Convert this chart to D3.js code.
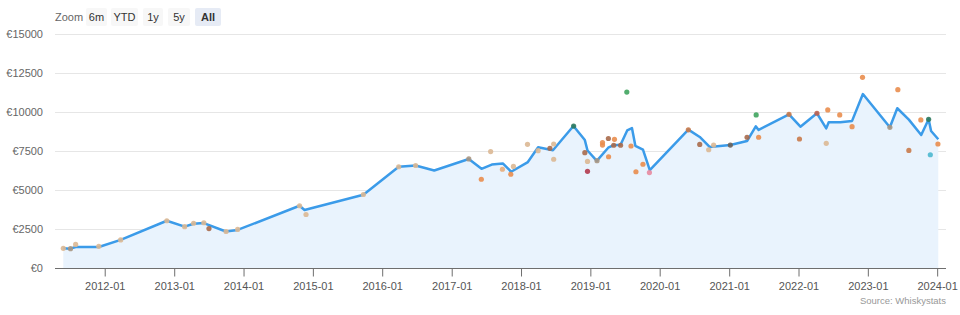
<!DOCTYPE html>
<html>
<head>
<meta charset="utf-8">
<script src="https://cdn.jsdelivr.net/npm/d3@7"></script>
<style>
  body { margin: 0; background: #fff; font-family: "Liberation Sans", Arial, sans-serif; }
  svg { display: block; }
</style>
</head>
<body>
<svg id="chart"></svg>
<script>
// line: average price over time
const lineDates = ["2011-05-28","2011-07-05","2011-08-01","2011-12-01","2012-03-25","2012-11-23","2013-02-25","2013-04-13","2013-06-06","2013-09-30","2013-12-01","2014-10-23","2014-11-18","2015-09-24","2016-03-28","2016-06-25","2016-10-01","2017-04-01","2017-06-07","2017-07-31","2017-09-27","2017-11-10","2018-02-06","2018-04-01","2018-06-18","2018-10-04","2018-12-03","2018-12-17","2019-02-04","2019-04-05","2019-05-04","2019-06-09","2019-07-14","2019-08-08","2019-08-26","2019-10-05","2019-11-10","2020-05-31","2020-07-30","2020-09-20","2021-01-07","2021-04-05","2021-05-21","2021-06-05","2021-11-12","2022-01-11","2022-04-08","2022-05-27","2022-06-09","2022-08-09","2022-10-10","2022-12-06","2023-04-27","2023-06-05","2023-08-05","2023-10-09","2023-11-17","2023-11-30","2024-01-07"]
const lineValues = [1260,1240,1350,1350,1800,3030,2650,2840,2880,2340,2440,3990,3720,4700,6490,6570,6250,6990,6360,6630,6700,6170,6790,7740,7550,9100,8200,7530,6870,7710,7870,7900,8820,8970,7830,7590,6280,8870,8400,7760,7880,8140,9080,8850,9850,9060,9920,8950,9340,9340,9430,11150,9020,10240,9510,8530,9530,8780,8250]

// scatter: individual auction results
const dotDates = ["2011-05-28","2011-07-05","2011-08-01","2011-12-01","2012-03-25","2012-11-23","2013-02-25","2013-04-13","2013-06-06","2013-07-03","2013-10-01","2013-12-01","2014-10-23","2014-11-26","2015-09-24","2016-03-28","2016-06-25","2017-04-01","2017-06-06","2017-07-25","2017-09-25","2017-11-08","2017-11-22","2018-02-04","2018-04-01","2018-06-02","2018-06-22","2018-06-22","2018-10-05","2018-12-03","2018-12-17","2018-12-17","2019-02-05","2019-03-06","2019-03-06","2019-04-06","2019-04-07","2019-05-04","2019-05-08","2019-06-09","2019-07-12","2019-08-03","2019-08-29","2019-10-05","2019-11-08","2020-05-31","2020-07-30","2020-09-15","2020-10-11","2021-01-07","2021-04-05","2021-05-23","2021-06-05","2021-11-12","2022-01-06","2022-04-08","2022-05-27","2022-06-04","2022-08-06","2022-10-10","2022-12-04","2023-04-27","2023-06-08","2023-08-05","2023-10-07","2023-11-17","2023-11-26","2024-01-05"]
const dotValues = [1260,1240,1510,1390,1800,3030,2650,2870,2900,2530,2340,2470,3990,3430,4710,6490,6570,6990,5690,7460,6330,6010,6510,7930,7520,7670,7950,6970,9100,7390,6830,6200,6880,8040,7880,8300,7130,7870,8250,7870,11280,7820,6170,6650,6120,8860,7920,7580,7880,7880,8380,9810,8380,9850,8270,9920,7990,10130,9810,9060,12220,9020,11430,7540,9490,9530,7260,7950]
const dotKinds = ["tan","grey","tan","tan","tan","tan","tan","tan","tan","brown","tan","tan","tan","tan","tan","tan","tan","grey","orange","tan","lorange","orange","tan","tan","tan","brown","tan","tan","dgreen","brown","tan","dred","grey","orange","orange","brown","orange","brown","orange","brown","green","orange","orange","orange","pink","borange","brown","tan","tan","dgrey","brown","green","orange","borange","borange","rbrown","tan","orange","orange","orange","orange","grey","orange","borange","orange","dgreen","teal","orange"]

const yTicks = [0, 2500, 5000, 7500, 10000, 12500, 15000]
const xTickYears = [2012,2013,2014,2015,2016,2017,2018,2019,2020,2021,2022,2023,2024]
const zoomButtons = ["6m", "YTD", "1y", "5y", "All"]

const kindColor = {
    tan: "#dcb894", grey: "#a89682", orange: "#e98d4e", lorange: "#e7ad7c",
    brown: "#a86a4b", borange: "#c97a4a", rbrown: "#c0604e", dred: "#b23a4e",
    green: "#3fa45e", dgreen: "#2e7a5e", teal: "#4cb8cf", pink: "#e88aa0", dgrey: "#6e6258"
}

const width = 960
const height = 315
const svg = d3.select('#chart')
    .attr("width", width)
    .attr("height", height)

const parse = d3.timeParse("%Y-%m-%d")
const line = lineDates.map((d, i) => ({ date: parse(d), value: lineValues[i] }))
const dots = dotDates.map((d, i) => ({ date: parse(d), value: dotValues[i], kind: dotKinds[i] }))

const x = d3.scaleTime()
    .domain(d3.extent(line, d => d.date))
    .range([63.3, 938.3])
const y = d3.scaleLinear()
    .domain([0, 15000])
    .range([268, 34])

// gridlines + y labels
svg.append('g')
    .selectAll('line')
    .data(yTicks.slice(1))
    .enter()
    .append('line')
    .attr('x1', 55).attr('x2', 946)
    .attr('y1', d => y(d) + 0.5).attr('y2', d => y(d) + 0.5)
    .attr('stroke', '#e6e6e6')

svg.append('g')
    .selectAll('text')
    .data(yTicks)
    .enter()
    .append('text')
    .attr('x', 43)
    .attr('y', d => y(d) + 4)
    .attr('text-anchor', 'end')
    .attr('font-size', 11)
    .attr('fill', '#666')
    .text(d => "€" + d)

// area + line
svg.append('path')
    .datum(line)
    .attr('fill', '#e9f3fd')
    .attr('d', d3.area().x(d => x(d.date)).y0(y(0)).y1(d => y(d.value)))

svg.append('path')
    .datum(line)
    .attr('fill', 'none')
    .attr('stroke', '#3b9be9')
    .attr('stroke-width', 2.5)
    .attr('stroke-linejoin', 'round')
    .attr('d', d3.line().x(d => x(d.date)).y(d => y(d.value)))

// scatter
svg.append('g')
    .selectAll('circle')
    .data(dots)
    .enter()
    .append('circle')
    .attr('cx', d => x(d.date))
    .attr('cy', d => y(d.value))
    .attr('r', 2.6)
    .attr('fill', d => kindColor[d.kind])
    .attr('fill-opacity', 0.9)

// x axis
const xAxis = d3.axisBottom(x)
    .tickValues(xTickYears.map(yr => new Date(yr, 0, 1)))
    .tickFormat(d3.timeFormat("%Y-%m"))
    .tickSize(8)
    .tickSizeOuter(0)

const gx = svg.append('g')
    .attr('transform', `translate(0,${y(0) + 0.5})`)
    .call(xAxis)
gx.select('.domain').remove()
gx.append('line')
    .attr('x1', 55).attr('x2', 946)
    .attr('stroke', '#6e6e6e')
gx.selectAll('.tick line').attr('stroke', '#6e6e6e')
gx.selectAll('.tick text')
    .attr('font-size', 11)
    .attr('font-family', '"Liberation Sans", Arial, sans-serif')
    .attr('fill', '#555')
    .attr('dy', '0.95em')

// zoom buttons
svg.append('text')
    .attr('x', 55).attr('y', 21)
    .attr('font-size', 11)
    .attr('fill', '#666')
    .text('Zoom')

const btnX = [86, 111, 143, 168, 195]
const btnW = [21, 27, 20, 22, 26]
const btns = svg.append('g')
    .selectAll('g')
    .data(zoomButtons)
    .enter()
    .append('g')
    .attr('transform', (d, i) => `translate(${btnX[i]},8)`)

btns.append('rect')
    .attr('width', (d, i) => btnW[i])
    .attr('height', 18)
    .attr('rx', 2)
    .attr('fill', d => d === "All" ? '#e6ebf5' : '#f7f7f7')

btns.append('text')
    .attr('x', (d, i) => btnW[i] / 2)
    .attr('y', 13)
    .attr('text-anchor', 'middle')
    .attr('font-size', 11)
    .attr('font-weight', d => d === "All" ? 'bold' : 'normal')
    .attr('fill', '#333')
    .text(d => d)

// credits
svg.append('text')
    .attr('x', 946).attr('y', 304)
    .attr('text-anchor', 'end')
    .attr('font-size', 9.5)
    .attr('fill', '#999')
    .text('Source: Whiskystats')
</script>
</body>
</html>
